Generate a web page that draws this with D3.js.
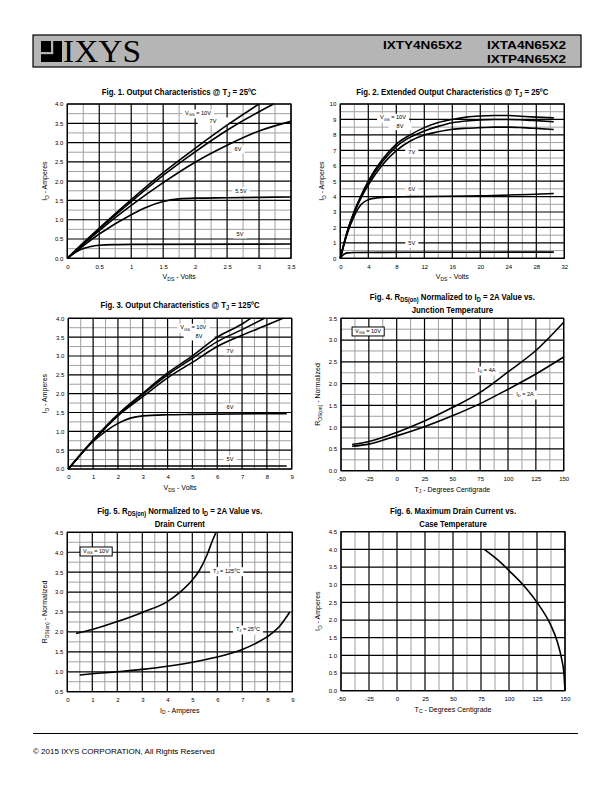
<!DOCTYPE html>
<html><head><meta charset="utf-8">
<script src="https://cdn.jsdelivr.net/npm/d3@7/dist/d3.min.js"></script>
<style>body{margin:0;background:#fff}svg{display:block}</style>
</head><body>
<svg id="page" width="612" height="792"></svg>
<script>
// ---------- DATA ----------
const partNumbers = ["IXTY4N65X2", "IXTA4N65X2", "IXTP4N65X2"];
const copyright = "\u00A9 2015 IXYS CORPORATION, All Rights Reserved";

// Fig 1: Output characteristics @ 25C (VDS, ID)
const fig1_10V = [[0,0],[0.25,0.4],[0.5,0.78],[1,1.52],[1.5,2.22],[2,2.85],[2.5,3.45],[3,4.0]];
const fig1_7V  = [[0,0],[0.5,0.76],[1,1.47],[1.5,2.15],[2,2.76],[2.5,3.32],[3,3.8],[3.23,4.0]];
const fig1_6V  = [[0,0],[0.5,0.72],[1,1.37],[1.5,1.96],[2,2.49],[2.5,2.93],[3,3.3],[3.5,3.55]];
const fig1_55V = [[0,0],[0.5,0.63],[1,1.13],[1.25,1.33],[1.5,1.47],[1.75,1.54],[2,1.56],[2.5,1.57],[3,1.58],[3.5,1.59]];
const fig1_5V  = [[0,0],[0.2,0.22],[0.35,0.3],[0.5,0.34],[0.75,0.355],[1,0.36],[3.5,0.37]];
const fig1Xticks = [0,0.5,1,1.5,2,2.5,3,3.5];
const fig1Yticks = [0,0.5,1,1.5,2,2.5,3,3.5,4];

// Fig 2: Extended output characteristics @ 25C
const fig2_10V = [[0,0],[1,1.75],[2,3.05],[3,4.1],[4,5.0],[6,6.4],[8,7.4],[10,8.0],[12,8.47],[14,8.8],[16,9.0],[18,9.15],[20,9.22],[22,9.25],[24,9.25],[26,9.2],[28,9.15],[30.5,9.1]];
const fig2_8V  = [[0,0],[1,1.72],[2,3.0],[3,4.05],[4,4.9],[6,6.25],[8,7.24],[10,7.85],[12,8.25],[14,8.55],[16,8.78],[18,8.9],[20,8.97],[22,9.0],[24,9.0],[26,8.97],[28,8.92],[30.5,8.85]];
const fig2_7V  = [[0,0],[1,1.7],[2,2.95],[3,3.95],[4,4.75],[6,6.05],[8,6.98],[10,7.6],[12,7.99],[14,8.2],[16,8.36],[18,8.43],[20,8.47],[22,8.5],[24,8.5],[26,8.47],[28,8.42],[30.5,8.35]];
const fig2_6V  = [[0,0],[1,1.6],[2,2.75],[3,3.5],[4,3.8],[5,3.9],[6,3.95],[10,4.0],[20,4.05],[30.5,4.2]];
const fig2_5V  = [[0,0],[0.5,0.25],[1,0.35],[2,0.38],[10,0.39],[30.5,0.4]];
const fig2Xticks = [0,4,8,12,16,20,24,28,32];
const fig2Yticks = [0,1,2,3,4,5,6,7,8,9,10];

// Fig 3: Output characteristics @ 125C
const fig3_10V = [[0,0],[1,0.77],[2,1.45],[3,2.01],[4,2.55],[5,3.0],[6,3.5],[7,3.85],[7.35,4.0]];
const fig3_8V  = [[0,0],[1,0.76],[2,1.43],[3,1.98],[4,2.5],[5,2.94],[6,3.38],[7,3.7],[7.9,4.0]];
const fig3_7V  = [[0,0],[1,0.75],[2,1.41],[3,1.92],[4,2.42],[5,2.83],[6,3.25],[7,3.55],[8,3.82],[8.65,4.0]];
const fig3_6V  = [[0,0],[1,0.73],[1.5,1.0],[2,1.21],[2.5,1.35],[3,1.41],[4,1.44],[5,1.45],[8.8,1.47]];
const fig3_5V  = [[0,0],[0.1,0.08],[8.8,0.08]];
const fig3Xticks = [0,1,2,3,4,5,6,7,8,9];
const fig3Yticks = [0,0.5,1,1.5,2,2.5,3,3.5,4];

// Fig 4: RDS(on) normalized vs junction temperature
const fig4_4A = [[-40,0.6],[-25,0.67],[0,0.88],[25,1.14],[50,1.45],[75,1.8],[100,2.27],[125,2.76],[150,3.41]];
const fig4_2A = [[-40,0.56],[-25,0.61],[0,0.8],[25,1.01],[50,1.26],[75,1.54],[100,1.87],[125,2.22],[150,2.61]];
const fig4Xticks = [-50,-25,0,25,50,75,100,125,150];
const fig4Yticks = [0,0.5,1,1.5,2,2.5,3,3.5];

// Fig 5: RDS(on) normalized vs drain current
const fig5_125C = [[0.35,1.96],[1,2.06],[2,2.26],[3,2.49],[4,2.76],[4.5,2.99],[5,3.3],[5.3,3.56],[5.6,3.95],[5.8,4.28],[5.95,4.5]];
const fig5_25C  = [[0.5,0.92],[1,0.95],[2,1.0],[3,1.06],[4,1.14],[5,1.24],[6,1.37],[7,1.56],[7.5,1.7],[8,1.88],[8.5,2.15],[8.9,2.5]];
const fig5Xticks = [0,1,2,3,4,5,6,7,8,9];
const fig5Yticks = [0.5,1,1.5,2,2.5,3,3.5,4,4.5];

// Fig 6: Maximum drain current vs case temperature
const fig6_max = [[78,4.0],[90,3.7],[100,3.4],[112.5,3.0],[125,2.5],[137.5,1.84],[143,1.4],[147,0.9],[149,0.5],[150,0]];
const fig6Xticks = [-50,-25,0,25,50,75,100,125,150];
const fig6Yticks = [0,0.5,1,1.5,2,2.5,3,3.5,4,4.5];

// ---------- DRAWING ----------
const svg = d3.select("#page");
const SANS = "'Liberation Sans', Arial, sans-serif";

// rich text: parts = strings or {sub:"..."}
function rich(g, x, y, parts, size, opts = {}) {
  const t = g.append("text").attr("x", x).attr("y", y)
    .attr("font-size", size).attr("font-family", SANS)
    .attr("font-weight", opts.weight || "normal")
    .attr("text-anchor", opts.anchor || "middle")
    .attr("fill", "#000");
  if (opts.transform) t.attr("transform", opts.transform);
  let shifted = false;
  parts.forEach(p => {
    if (typeof p === "string") {
      const ts = t.append("tspan").text(p);
      if (shifted) { ts.attr("dy", -size * 0.25); shifted = false; }
    } else {
      t.append("tspan").text(p.sub).attr("font-size", size * 0.72).attr("dy", size * 0.25);
      shifted = true;
    }
  });
  return t;
}

function chart(cfg) {
  const g = svg.append("g");
  const x = d3.scaleLinear().domain(cfg.xd).range([cfg.x0, cfg.x1]);
  const y = d3.scaleLinear().domain(cfg.yd).range([cfg.y1, cfg.y0]);
  // minor (gray) grid
  if (cfg.xMinor) g.selectAll(null).data(cfg.xMinor).join("line")
    .attr("x1", d => x(d)).attr("x2", d => x(d)).attr("y1", cfg.y0).attr("y2", cfg.y1)
    .attr("stroke", "#a0a0a0").attr("stroke-width", 1);
  if (cfg.yMinor) g.selectAll(null).data(cfg.yMinor).join("line")
    .attr("y1", d => y(d)).attr("y2", d => y(d)).attr("x1", cfg.x0).attr("x2", cfg.x1)
    .attr("stroke", "#a0a0a0").attr("stroke-width", 1);
  // major (black) grid
  g.selectAll(null).data(cfg.xt).join("line")
    .attr("x1", d => x(d)).attr("x2", d => x(d)).attr("y1", cfg.y0).attr("y2", cfg.y1)
    .attr("stroke", "#000").attr("stroke-width", 1.2);
  g.selectAll(null).data(cfg.yt).join("line")
    .attr("y1", d => y(d)).attr("y2", d => y(d)).attr("x1", cfg.x0).attr("x2", cfg.x1)
    .attr("stroke", "#000").attr("stroke-width", 1.2);

  // axes
  const xa = g.append("g").attr("transform", `translate(0,${cfg.y1})`)
    .call(d3.axisBottom(x).tickValues(cfg.xt).tickSize(0).tickPadding(6).tickFormat(cfg.xf || (d => d)));
  const ya = g.append("g").attr("transform", `translate(${cfg.x0},0)`)
    .call(d3.axisLeft(y).tickValues(cfg.yt).tickSize(0).tickPadding(4).tickFormat(cfg.yf || d3.format(".1f")));
  [xa, ya].forEach(a => {
    a.select(".domain").remove();
    a.selectAll("text").attr("font-family", SANS).attr("font-size", 6).attr("fill", "#000");
  });
  // frame
  g.append("rect").attr("x", cfg.x0).attr("y", cfg.y0).attr("width", cfg.x1 - cfg.x0).attr("height", cfg.y1 - cfg.y0)
    .attr("fill", "none").attr("stroke", "#000").attr("stroke-width", 1.2);

  // labels with white background
  (cfg.labels || []).forEach(l => {
    const t = rich(g, l.x, l.y, l.parts, 5.6);
    t.attr("dominant-baseline", "middle");
    const bb = t.node().getBBox();
    g.insert("rect", () => t.node())
      .attr("x", bb.x - (l.padx ?? 3)).attr("y", bb.y - 1).attr("width", bb.width + 2 * (l.padx ?? 3)).attr("height", bb.height + 2)
      .attr("fill", "#fff").attr("stroke", l.box ? "#000" : "none").attr("stroke-width", 1);
  });

  // curves
  const line = d3.line().x(d => x(d[0])).y(d => y(d[1])).curve(d3.curveMonotoneX);
  cfg.series.forEach(s => {
    g.append("path").attr("d", line(s)).attr("fill", "none").attr("stroke", "#000").attr("stroke-width", 1.6);
  });

  // titles (condensed bold)
  const cx = (cfg.x0 + cfg.x1) / 2;
  cfg.title.forEach((parts, i) => {
    rich(g, 0, 0, parts, 9.3, { weight: "bold", transform: `translate(${cx},${cfg.ty + i * 12.5}) scale(0.84,1)` });
  });
  rich(g, cx, cfg.y1 + 21, cfg.xlab, 7);
  const cy = (cfg.y0 + cfg.y1) / 2;
  rich(g, 0, 0, cfg.ylab, 7, { transform: `translate(${cfg.yx},${cy}) rotate(-90)` });
}

function minor(a, b, step) { const r = []; for (let v = a; v < b - 1e-9; v += step) r.push(+(v + step / 2).toFixed(4)); return r; }

// ----- Header -----
svg.append("rect").attr("x", 33).attr("y", 35).attr("width", 548).attr("height", 32)
  .attr("fill", "#b5b5b5").attr("stroke", "#000").attr("stroke-width", 1.2);
// logo glyph
svg.append("rect").attr("x", 41).attr("y", 41).attr("width", 21).attr("height", 21).attr("fill", "#000");
svg.append("rect").attr("x", 51).attr("y", 41).attr("width", 2.2).attr("height", 13).attr("fill", "#b5b5b5");
svg.append("rect").attr("x", 41).attr("y", 52).attr("width", 12.2).attr("height", 2.2).attr("fill", "#b5b5b5");
svg.append("text").attr("x", 63).attr("y", 62).attr("font-family", "'Liberation Serif', 'Times New Roman', serif")
  .attr("font-size", 31).attr("textLength", 78).attr("lengthAdjust", "spacingAndGlyphs").text("IXYS");
const pnPos = [[383, 49], [487, 49], [487, 63]];
partNumbers.forEach((p, i) => {
  svg.append("text").attr("x", pnPos[i][0]).attr("y", pnPos[i][1]).attr("font-family", SANS).attr("font-weight", "bold")
    .attr("font-size", 11).attr("textLength", 79).attr("lengthAdjust", "spacingAndGlyphs").text(p);
});

// ----- Charts -----
const VGS = ["V", {sub: "GS"}, " = 10V"];
chart({ x0: 67.3, x1: 291, y0: 104, y1: 258.3, xd: [0, 3.5], yd: [0, 4], xt: fig1Xticks, yt: fig1Yticks,
  xMinor: minor(0, 3.5, 0.5), yMinor: minor(0, 4, 0.5), xf: d => d,
  series: [fig1_10V, fig1_7V, fig1_6V, fig1_55V, fig1_5V], ty: 95,
  title: [["Fig. 1. Output Characteristics @ T", {sub: "J"}, " = 25\u00BAC"]],
  xlab: ["V", {sub: "DS"}, " - Volts"], ylab: ["I", {sub: "D"}, " - Amperes"], yx: 47,
  labels: [{x: 198, y: 114, parts: VGS}, {x: 213, y: 122, parts: ["7V"], padx: 12}, {x: 238, y: 150, parts: ["6V"]},
           {x: 241, y: 192, parts: ["5.5V"]}, {x: 240, y: 235, parts: ["5V"]}] });

chart({ x0: 340.3, x1: 564.3, y0: 104, y1: 258.3, xd: [0, 32], yd: [0, 10], xt: fig2Xticks, yt: fig2Yticks,
  xMinor: minor(0, 32, 4), yMinor: minor(0, 10, 1), yf: d => d,
  series: [fig2_10V, fig2_8V, fig2_7V, fig2_6V, fig2_5V], ty: 95,
  title: [["Fig. 2. Extended Output Characteristics @ T", {sub: "J"}, " = 25\u00BAC"]],
  xlab: ["V", {sub: "DS"}, " - Volts"], ylab: ["I", {sub: "D"}, " - Amperes"], yx: 324,
  labels: [{x: 393, y: 118.3, parts: VGS}, {x: 400, y: 126.7, parts: ["8V"], padx: 8}, {x: 411.7, y: 153.3, parts: ["7V"]},
           {x: 411.7, y: 190, parts: ["6V"]}, {x: 411.7, y: 244.3, parts: ["5V"]}] });

chart({ x0: 68.3, x1: 291.7, y0: 318.3, y1: 469, xd: [0, 9], yd: [0, 4], xt: fig3Xticks, yt: fig3Yticks,
  xMinor: minor(0, 9, 1), yMinor: minor(0, 4, 0.5),
  series: [fig3_10V, fig3_8V, fig3_7V, fig3_6V, fig3_5V], ty: 308,
  title: [["Fig. 3. Output Characteristics @ T", {sub: "J"}, " = 125\u00BAC"]],
  xlab: ["V", {sub: "DS"}, " - Volts"], ylab: ["I", {sub: "D"}, " - Amperes"], yx: 47,
  labels: [{x: 193.3, y: 328.3, parts: VGS}, {x: 199, y: 337, parts: ["8V"], padx: 12}, {x: 230, y: 351.7, parts: ["7V"]},
           {x: 230, y: 408, parts: ["6V"]}, {x: 230, y: 460, parts: ["5V"]}] });

chart({ x0: 341, x1: 563.7, y0: 318.3, y1: 470.7, xd: [-50, 150], yd: [0, 3.5], xt: fig4Xticks, yt: fig4Yticks,
  xMinor: minor(-50, 150, 25), yMinor: minor(0, 3.5, 0.5),
  series: [fig4_4A, fig4_2A], ty: 300,
  title: [["Fig. 4. R", {sub: "DS(on)"}, " Normalized to I", {sub: "D"}, " = 2A Value vs."], ["Junction Temperature"]],
  xlab: ["T", {sub: "J"}, " - Degrees Centigrade"], ylab: ["R", {sub: "DS(on)"}, " - Normalized"], yx: 320,
  labels: [{x: 486.7, y: 371, parts: ["I", {sub: "D"}, " = 4A"]}, {x: 525, y: 395, parts: ["I", {sub: "D"}, " = 2A"]},
           {x: 368, y: 331.5, parts: VGS, box: true, padx: 3}] });

chart({ x0: 67.3, x1: 292.3, y0: 532.3, y1: 691.7, xd: [0, 9], yd: [0.5, 4.5], xt: fig5Xticks, yt: fig5Yticks,
  xMinor: minor(0, 9, 1), yMinor: minor(0.5, 4.5, 0.5),
  series: [fig5_125C, fig5_25C], ty: 514,
  title: [["Fig. 5. R", {sub: "DS(on)"}, " Normalized to I", {sub: "D"}, " = 2A Value vs."], ["Drain Current"]],
  xlab: ["I", {sub: "D"}, " - Amperes"], ylab: ["R", {sub: "DS(on)"}, " - Normalized"], yx: 47,
  labels: [{x: 226.7, y: 571.7, parts: ["T", {sub: "J"}, " = 125\u00BAC"]}, {x: 248, y: 630, parts: ["T", {sub: "J"}, " = 25\u00BAC"]},
           {x: 96, y: 551.5, parts: VGS, box: true, padx: 3}] });

chart({ x0: 341, x1: 565, y0: 531.7, y1: 690.7, xd: [-50, 150], yd: [0, 4.5], xt: fig6Xticks, yt: fig6Yticks,
  xMinor: minor(-50, 150, 25), yMinor: null,
  series: [fig6_max], ty: 514,
  title: [["Fig. 6. Maximum Drain Current vs."], ["Case Temperature"]],
  xlab: ["T", {sub: "C"}, " - Degrees Centigrade"], ylab: ["I", {sub: "D"}, " - Amperes"], yx: 320,
  labels: [] });

// ----- Footer -----
svg.append("line").attr("x1", 33).attr("x2", 578).attr("y1", 733.5).attr("y2", 733.5).attr("stroke", "#000").attr("stroke-width", 1.2);
svg.append("text").attr("x", 33).attr("y", 754).attr("font-family", SANS).attr("font-size", 8).text(copyright);
</script>
</body></html>
